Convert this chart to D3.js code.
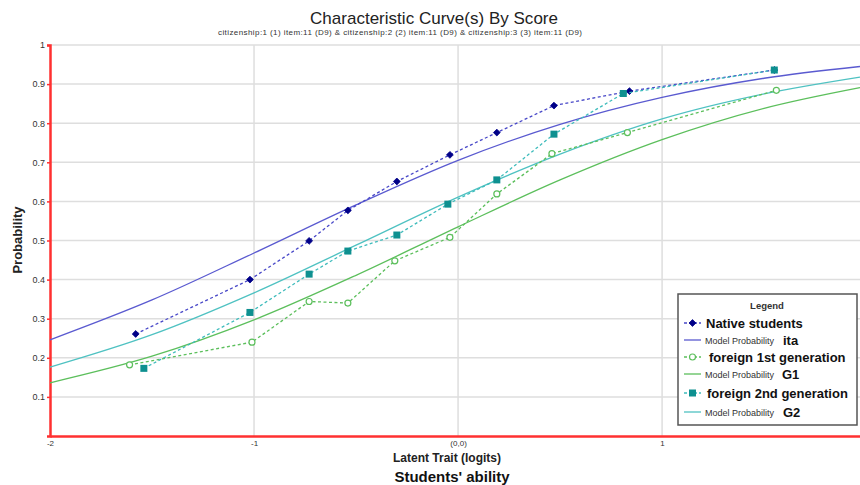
<!DOCTYPE html>
<html>
<head>
<meta charset="utf-8">
<script src="https://cdn.jsdelivr.net/npm/d3@7"></script>
<style>
  body { margin: 0; background: #fff; }
  svg { font-family: "Liberation Sans", Arial, sans-serif; }
</style>
</head>
<body>
<div id="chart"></div>
<script>
// observed points (theta, proportion) per group
const thetaIta = [-1.58, -1.02, -0.73, -0.54, -0.30, -0.04, 0.19, 0.47, 0.84, 1.55];
const probIta  = [0.261, 0.400, 0.499, 0.577, 0.651, 0.719, 0.776, 0.845, 0.882, 0.936];
const thetaG1  = [-1.61, -1.01, -0.73, -0.54, -0.31, -0.04, 0.19, 0.46, 0.83, 1.56];
const probG1   = [0.182, 0.240, 0.344, 0.340, 0.448, 0.508, 0.619, 0.722, 0.776, 0.884];
const thetaG2  = [-1.54, -1.02, -0.73, -0.54, -0.30, -0.05, 0.19, 0.47, 0.81, 1.55];
const probG2   = [0.173, 0.316, 0.414, 0.473, 0.514, 0.593, 0.655, 0.772, 0.876, 0.936];

// model probability curves, read along the axis
const modelTheta = [-2, -1.5, -1, -0.5, 0, 0.5, 1, 1.5, 1.97];
const modelIta   = [0.246, 0.348, 0.468, 0.591, 0.705, 0.797, 0.866, 0.915, 0.945];
const modelG1    = [0.136, 0.204, 0.297, 0.411, 0.535, 0.655, 0.758, 0.838, 0.891];
const modelG2    = [0.176, 0.259, 0.366, 0.488, 0.611, 0.721, 0.811, 0.875, 0.918];

const xTicks = [-2, -1, 0, 1];
const xTickLabels = ["-2", "-1", "(0,0)", "1"];
const yTicks = [0.1, 0.2, 0.3, 0.4, 0.5, 0.6, 0.7, 0.8, 0.9, 1];

const w = 860;
const h = 485;

const svg = d3.select("#chart")
              .append("svg")
              .attr("width", w)
              .attr("height", h)

const x = d3.scaleLinear().domain([-2, 1.97]).range([50, 860])
const y = d3.scaleLinear().domain([0, 1]).range([436, 45])

// grid
svg.append("g")
   .selectAll("line")
   .data(yTicks)
   .enter()
   .append("line")
   .attr("x1", x(-2)).attr("x2", w)
   .attr("y1", d => y(d)).attr("y2", d => y(d))
   .attr("stroke", "#dedede").attr("stroke-width", 1.5)

svg.append("g")
   .selectAll("line")
   .data(xTicks.slice(1))
   .enter()
   .append("line")
   .attr("x1", d => x(d)).attr("x2", d => x(d))
   .attr("y1", y(1)).attr("y2", y(0))
   .attr("stroke", "#dedede").attr("stroke-width", 1.5)

// axes
const yAxis = svg.append("g")
   .attr("transform", `translate(${x(-2)},0)`)
   .call(d3.axisLeft(y).tickValues(yTicks).tickSize(3).tickFormat(d3.format("~g")))
yAxis.select(".domain").attr("stroke", "#ff3030").attr("stroke-width", 2.5)
yAxis.selectAll(".tick line").attr("stroke", "#ff3030").attr("stroke-width", 1.5)
yAxis.selectAll("text").attr("fill", "#333").style("font-size", "9px").attr("x", -5)

const xAxis = svg.append("g")
   .attr("transform", `translate(0,${y(0)})`)
   .call(d3.axisBottom(x).tickValues(xTicks).tickSize(0).tickFormat((d, i) => xTickLabels[i]))
xAxis.select(".domain").attr("stroke", "#ff3030").attr("stroke-width", 2.5)
xAxis.selectAll("text").attr("fill", "#333").style("font-size", "8px").attr("dy", "0.9em")

// series
const series = [
  { t: thetaIta, p: probIta, m: modelIta, dash: "#4848c8", line: "#5a5ad0", mark: "diamond" },
  { t: thetaG1,  p: probG1,  m: modelG1,  dash: "#5cbf5c", line: "#5cbf5c", mark: "circle" },
  { t: thetaG2,  p: probG2,  m: modelG2,  dash: "#3fbcbc", line: "#4fc2c2", mark: "square" }
]

const line = d3.line().x(d => x(d[0])).y(d => y(d[1]))
const curve = d3.line().x(d => x(d[0])).y(d => y(d[1])).curve(d3.curveMonotoneX)

series.forEach(s => {
  svg.append("path")
     .datum(modelTheta.map((t, i) => [t, s.m[i]]))
     .attr("d", curve)
     .attr("fill", "none")
     .attr("stroke", s.line)
     .attr("stroke-width", 1.3)
})

function drawMark(g, type, cx, cy) {
  if (type == "diamond") {
    g.append("path").attr("d", d3.symbol(d3.symbolDiamond2, 30)())
     .attr("transform", `translate(${cx},${cy})`).attr("fill", "#000088")
     .attr("stroke", "#000088").attr("stroke-width", 0.8).attr("stroke-linejoin", "round")
  } else if (type == "circle") {
    g.append("circle").attr("cx", cx).attr("cy", cy).attr("r", 3)
     .attr("fill", "#fff").attr("stroke", "#5cbf5c").attr("stroke-width", 1.2)
  } else {
    g.append("rect").attr("x", cx - 3.5).attr("y", cy - 3.5).attr("width", 7).attr("height", 7)
     .attr("fill", "#0e9090")
  }
}

series.forEach(s => {
  const pts = s.t.map((t, i) => [t, s.p[i]])
  svg.append("path")
     .datum(pts)
     .attr("d", line)
     .attr("fill", "none")
     .attr("stroke", s.dash)
     .attr("stroke-width", 1.3)
     .attr("stroke-dasharray", "3,2.5")
  const g = svg.append("g")
  pts.forEach(d => drawMark(g, s.mark, x(d[0]), y(d[1])))
})

// titles
svg.append("text").attr("x", 434).attr("y", 24).attr("text-anchor", "middle")
   .style("font-size", "17px").attr("fill", "#222").attr("textLength", 248)
   .text("Characteristic Curve(s) By Score")
svg.append("text").attr("x", 400).attr("y", 35).attr("text-anchor", "middle")
   .style("font-size", "8px").attr("fill", "#333").attr("textLength", 364)
   .text("citizenship:1 (1) item:11 (D9) & citizenship:2 (2) item:11 (D9) & citizenship:3 (3) item:11 (D9)")
svg.append("text").attr("transform", "translate(22,240) rotate(-90)").attr("text-anchor", "middle")
   .style("font-size", "13px").style("font-weight", "bold").attr("fill", "#222")
   .text("Probability")
svg.append("text").attr("x", 447).attr("y", 462).attr("text-anchor", "middle")
   .style("font-size", "12px").style("font-weight", "bold").attr("fill", "#222")
   .text("Latent Trait (logits)")
svg.append("text").attr("x", 452).attr("y", 482).attr("text-anchor", "middle")
   .style("font-size", "15px").style("font-weight", "bold").attr("fill", "#111")
   .text("Students' ability")

// legend
const lg = svg.append("g")
lg.append("rect").attr("x", 678).attr("y", 294).attr("width", 179).attr("height", 131)
  .attr("fill", "#fff").attr("stroke", "#555").attr("stroke-width", 1.5)
lg.append("text").attr("x", 767).attr("y", 309).attr("text-anchor", "middle")
  .style("font-size", "9.5px").style("font-weight", "bold").attr("fill", "#333").text("Legend")

const rows = [
  { y: 323, kind: "obs", s: series[0], big: "Native students", bx: 706 },
  { y: 340, kind: "model", s: series[0], big: "ita", bx: 783 },
  { y: 357, kind: "obs", s: series[1], big: "foreign 1st generation", bx: 709 },
  { y: 374, kind: "model", s: series[1], big: "G1", bx: 782 },
  { y: 393, kind: "obs", s: series[2], big: "foreign 2nd generation", bx: 707 },
  { y: 412, kind: "model", s: series[2], big: "G2", bx: 783 }
]
rows.forEach(r => {
  if (r.kind == "obs") {
    lg.append("line").attr("x1", 684).attr("x2", 701).attr("y1", r.y).attr("y2", r.y)
      .attr("stroke", r.s.dash).attr("stroke-width", 1.3).attr("stroke-dasharray", "3,2")
    drawMark(lg, r.s.mark, 692.5, r.y)
  } else {
    lg.append("line").attr("x1", 684).attr("x2", 701).attr("y1", r.y).attr("y2", r.y)
      .attr("stroke", r.s.line).attr("stroke-width", 1.3)
    lg.append("text").attr("x", 705).attr("y", r.y + 3.5).style("font-size", "9px")
      .attr("fill", "#333").attr("textLength", 69).text("Model Probability")
  }
  lg.append("text").attr("x", r.bx).attr("y", r.y + 4.5).style("font-size", "13px")
    .style("font-weight", "bold").attr("fill", "#111").text(r.big)
})
</script>
</body>
</html>
